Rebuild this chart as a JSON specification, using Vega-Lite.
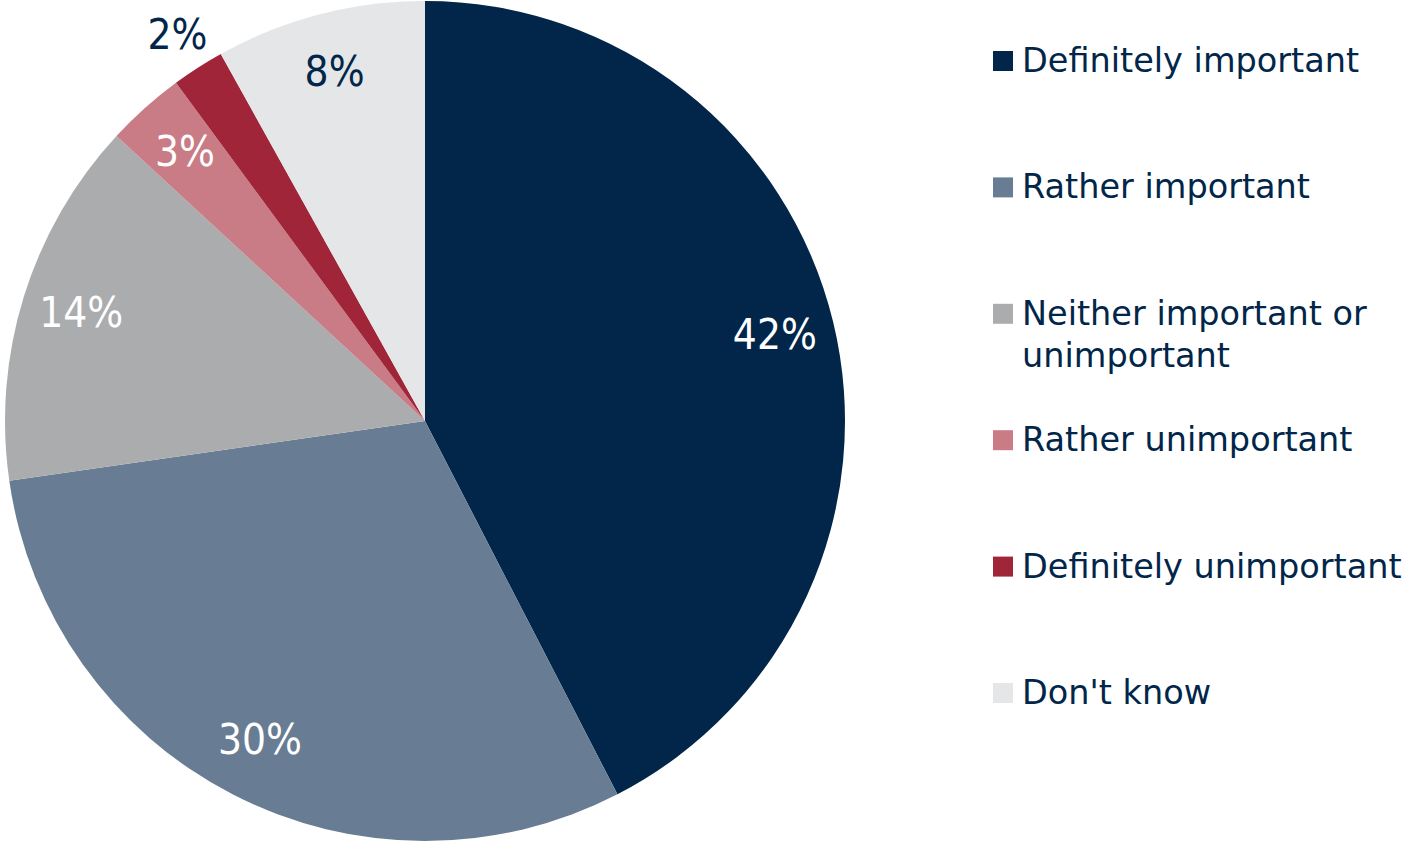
{
  "$schema": "https://vega.github.io/schema/vega-lite/v6.json",
  "padding": 0,
  "autosize": {"type": "pad"},
  "spacing": 133,
  "background": "#FFFFFF",
  "config": {"view": {"stroke": null}, "font": "DejaVu Sans"},
  "datasets": {
    "shares": [
      {"idx": 1, "cat": "Definitely important", "value": 42, "label": "42%"},
      {"idx": 2, "cat": "Rather important", "value": 30, "label": "30%"},
      {"idx": 3, "cat": "Neither important or\nunimportant", "value": 14, "label": "14%"},
      {"idx": 4, "cat": "Rather unimportant", "value": 3, "label": "3%"},
      {"idx": 5, "cat": "Definitely unimportant", "value": 2, "label": "2%"},
      {"idx": 6, "cat": "Don't know", "value": 8, "label": "8%"}
    ]
  },
  "hconcat": [
    {
      "width": 850,
      "height": 842,
      "data": {"name": "shares"},
      "encoding": {
        "theta": {"field": "value", "type": "quantitative", "stack": true},
        "order": {"field": "idx", "type": "quantitative"},
        "detail": {"field": "cat", "type": "nominal"}
      },
      "layer": [
        {
          "mark": {"type": "arc", "outerRadius": 420},
          "encoding": {
            "color": {
              "field": "cat",
              "type": "nominal",
              "scale": {
                "domain": ["Definitely important", "Rather important", "Neither important or\nunimportant", "Rather unimportant", "Definitely unimportant", "Don't know"],
                "range": ["#012649", "#687D93", "#ABACAE", "#C97C85", "#A12539", "#E5E6E8"]
              },
              "legend": null
            }
          }
        },
        {
          "mark": {"type": "text", "font": "DejaVu Sans Condensed", "fontSize": 42, "align": "center", "baseline": "middle"},
          "encoding": {
            "radius": {"field": "value", "type": "quantitative", "scale": {"type": "linear", "domain": [2, 3], "range": [458, 360], "clamp": true}},
            "text": {"field": "label", "type": "nominal"},
            "color": {"condition": {"test": "datum.value <= 2 || datum.idx === 6", "value": "#012649"}, "value": "#FFFFFF"}
          }
        }
      ]
    },
    {
      "width": 40,
      "height": 842,
      "data": {"name": "shares"},
      "encoding": {
        "y": {"field": "cat", "type": "nominal", "sort": {"field": "idx"}, "scale": {"type": "point", "padding": 0, "range": [61, 693]}, "axis": null}
      },
      "layer": [
        {
          "mark": {"type": "point", "shape": "square", "size": 400, "filled": true, "opacity": 1},
          "encoding": {
            "color": {
              "field": "cat",
              "type": "nominal",
              "scale": {
                "domain": ["Definitely important", "Rather important", "Neither important or\nunimportant", "Rather unimportant", "Definitely unimportant", "Don't know"],
                "range": ["#012649", "#687D93", "#ABACAE", "#C97C85", "#A12539", "#E5E6E8"]
              },
              "legend": null
            }
          }
        },
        {
          "mark": {"type": "text", "align": "left", "baseline": "alphabetic", "dx": 19, "dy": 11, "fontSize": 33.5, "color": "#012649", "lineBreak": "\n", "lineHeight": 42},
          "encoding": {
            "text": {"field": "cat", "type": "nominal"}
          }
        }
      ]
    }
  ]
}
